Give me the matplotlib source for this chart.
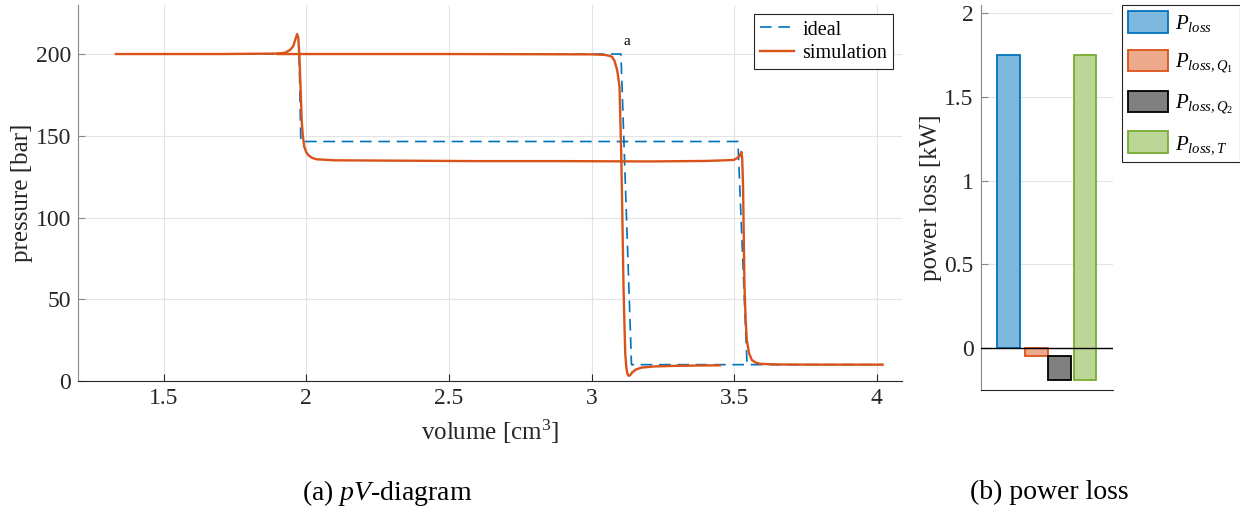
import numpy as np
import matplotlib
matplotlib.use("Agg")
import matplotlib.pyplot as plt
from matplotlib.patches import Patch

plt.rcParams['font.family'] = ['Liberation Serif', 'DejaVu Serif']
plt.rcParams['mathtext.fontset'] = 'custom'
plt.rcParams['mathtext.rm'] = 'Liberation Serif'
plt.rcParams['mathtext.it'] = 'Liberation Serif:italic'

# ---- pV data ----
vol_ideal = [1.333, 3.103, 3.140, 4.020, np.nan, 1.975, 1.981, 3.513, 3.545]
p_ideal = [200, 200, 10, 10, np.nan, 200, 146.5, 146.5, 10]

vol_sim = [1.333, 1.70, 1.90, 1.925, 1.943, 1.955, 1.961, 1.968, 1.972, 1.976, 1.980,
           1.984, 1.988, 1.993, 2.000, 2.007, 2.020, 2.037, 2.10, 2.30, 2.60, 2.90,
           3.20, 3.40, 3.47, 3.498, 3.512, 3.520, 3.525, 3.528, 3.531, 3.536, 3.540,
           3.544, 3.552, 3.562, 3.575, 3.591, 3.65, 3.80, 4.020,
           np.nan,
           1.90, 2.50, 3.00, 3.045, 3.060, 3.071, 3.080, 3.090, 3.098, 3.104, 3.108,
           3.112, 3.116, 3.118, 3.122, 3.126, 3.130, 3.135, 3.142, 3.155, 3.175,
           3.22, 3.30, 3.45]
p_sim = [200, 200, 200.3, 200.8, 202.4, 205.0, 208.5, 212.2, 210, 198.4, 180,
         159.6, 150, 143.3, 140, 138.2, 136.5, 135.6, 135, 134.8, 134.5, 134.5,
         134.3, 134.6, 135.0, 135.2, 136.5, 138.0, 140.2, 136, 119, 57.7, 38,
         25, 17, 12.8, 11.3, 10.5, 10.1, 10.0, 10.0,
         np.nan,
         200, 200, 199.8, 199.5, 199.0, 198.4, 196, 190, 180, 139, 100,
         57.7, 30, 17, 8, 4.2, 3.2, 3.5, 5.2, 7.0, 8.2,
         8.9, 9.3, 9.6]

# ---- power loss data ----
loss_labels = [r'$P_{loss}$', r'$P_{loss,Q_1}$', r'$P_{loss,Q_2}$', r'$P_{loss,T}$']
loss_top = [1.753, 0.0, -0.044, 1.753]
loss_bottom = [0.0, -0.044, -0.189, -0.189]
bar_pos = [1.0, 2.1, 3.0, 4.0]
edge_colors = ['#0072BD', '#D95319', '#000000', '#77AC30']
face_colors = ['#7FB8DE', '#ECA98C', '#808080', '#BCD698']

fig = plt.figure(figsize=(12.4, 5.15), dpi=100)

# ---------- left: pV diagram ----------
ax = fig.add_axes([0.0629, 0.2602, 0.6645, 0.7301])
ax.plot(vol_ideal, p_ideal, color='#0072BD', lw=1.2, dashes=(7, 4), label='ideal', zorder=3)
ax.plot(vol_sim, p_sim, color='#D95319', lw=1.7, label='simulation', zorder=4)
ax.text(3.124, 204, 'a', fontsize=11, ha='center', va='bottom')
ax.set_xlim(1.2, 4.088)
ax.set_ylim(0, 230)
ax.set_xticks([1.5, 2, 2.5, 3, 3.5, 4])
ax.set_xticklabels(['1.5', '2', '2.5', '3', '3.5', '4'])
ax.set_yticks([0, 50, 100, 150, 200])
ax.grid(True, color='#E3E3E3', lw=0.8)
ax.set_axisbelow(True)
for s in ['top', 'right']:
    ax.spines[s].set_visible(False)
ax.spines['left'].set_color('#888888')
ax.spines['bottom'].set_color('#262626')
ax.tick_params(direction='in', length=5, labelsize=17, colors='#262626', pad=5)
ax.tick_params(axis='y', colors='#888888', labelcolor='#262626')
ax.set_xlabel(r'volume [cm$^3$]', fontsize=18, color='#262626', labelpad=6)
ax.set_ylabel('pressure [bar]', fontsize=18, color='#262626', labelpad=2)
leg = ax.legend(loc='upper right', bbox_to_anchor=(0.9892, 0.975), fontsize=14.5,
                frameon=True, fancybox=False, edgecolor='#262626', framealpha=1,
                handlelength=1.7, borderpad=0.3, labelspacing=0.2, handletextpad=0.4,
                borderaxespad=0)
leg.get_frame().set_linewidth(0.8)

# ---------- right: power loss ----------
ax2 = fig.add_axes([0.7909, 0.2427, 0.1067, 0.7476])
for x, b, t, ec, fc, lab in zip(bar_pos, loss_bottom, loss_top, edge_colors, face_colors, loss_labels):
    ax2.bar(x, t - b, bottom=b, width=0.9, color=fc, edgecolor=ec, lw=1.3, label=lab, zorder=3)
ax2.axhline(0, color='black', lw=1, zorder=4)
ax2.set_xlim(-0.1, 5.1)
ax2.set_ylim(-0.25, 2.05)
ax2.set_xticks([])
ax2.set_yticks([0, 0.5, 1, 1.5, 2])
ax2.set_yticklabels(['0', '0.5', '1', '1.5', '2'])
ax2.grid(True, axis='y', color='#E3E3E3', lw=0.8)
ax2.set_axisbelow(True)
for s in ['top', 'right']:
    ax2.spines[s].set_visible(False)
ax2.spines['left'].set_color('#888888')
ax2.spines['bottom'].set_color('#262626')
ax2.tick_params(axis='y', direction='in', length=5, labelsize=17, colors='#888888',
                labelcolor='#262626', pad=5)
ax2.set_ylabel('power loss [kW]', fontsize=18, color='#262626', labelpad=2)

handles = [Patch(facecolor=fc, edgecolor=ec, lw=1.3) for fc, ec in zip(face_colors, edge_colors)]
leg2 = fig.legend(handles, loss_labels, loc='upper left', bbox_to_anchor=(0.9048, 0.990),
                  fontsize=15, frameon=True, fancybox=False, edgecolor='#262626',
                  framealpha=1, handlelength=1.9, handleheight=1.2, borderpad=0.3,
                  labelspacing=0.75, handletextpad=0.35, borderaxespad=0)
leg2.get_frame().set_linewidth(0.8)

# captions
fig.text(0.312, 0.043, r'(a) $pV$-diagram', fontsize=20, ha='center', va='center')
fig.text(0.846, 0.043, '(b) power loss', fontsize=20, ha='center', va='center')

fig.savefig('out.png', dpi=100)
